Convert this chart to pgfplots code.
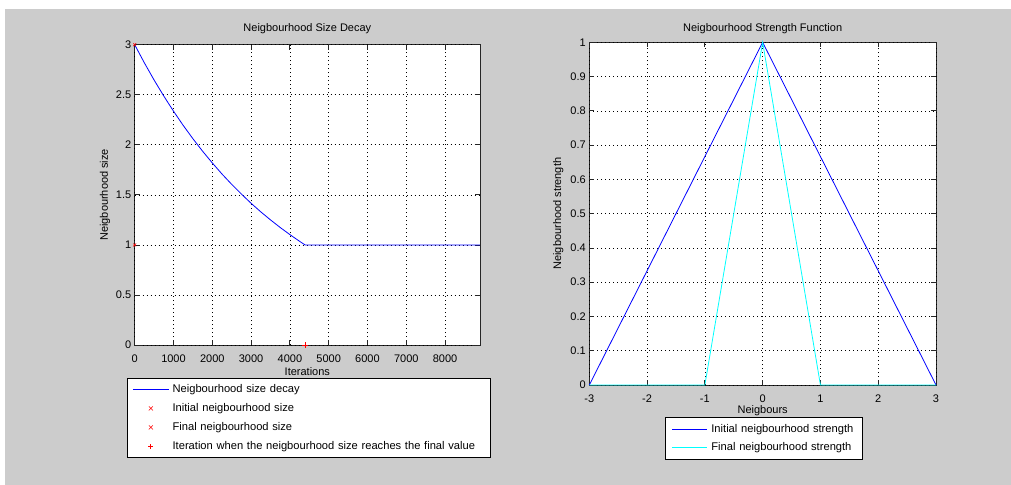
\documentclass[border=0pt]{standalone}
\usepackage{fontspec}
\setmainfont{Liberation Sans}
\usepackage{pgfplots}
\pgfplotsset{compat=1.18}
\definecolor{bg}{RGB}{204,204,204}
\definecolor{mblue}{RGB}{0,0,255}
\definecolor{mcyan}{RGB}{0,255,255}
\definecolor{mred}{RGB}{255,0,0}
\newcommand{\fnt}{\fontsize{11bp}{13bp}\selectfont}
\newcommand{\lfnt}{\fontsize{11.15bp}{13bp}\selectfont}
\pgfplotsset{
  mlab/.style={
    scale only axis,
    axis background/.style={fill=white, draw=black!85, line width=0.8bp},
    axis line style={draw=none},
    tick align=inside,
    major tick length=5bp,
    tick style={black!85, line width=0.8bp},
    grid=major,
    major grid style={black, line width=0.65bp, dash pattern=on 1bp off 3bp},
    /pgf/number format/assume math mode=true,
    /pgf/number format/1000 sep={},
    ticklabel style={font=\fnt},
    xticklabel style={anchor=base, yshift=-17bp},
    yticklabel style={anchor=east},
    label style={font=\fnt},
    every axis title/.style={font=\fnt, anchor=base},
    clip=false,
    legend cell align=left,
    legend style={draw=black, fill=white, line width=0.8bp, font=\lfnt,
      nodes={inner sep=0pt, text height=8bp, text depth=2bp}},
  },
  legLineA/.style={legend image code/.code={\draw[draw=#1, line width=1bp] (0bp,0bp) -- (36bp,0bp); \path[draw=none,fill=none] (0bp,0bp) -- (39.7bp,0bp);}},
  legLineB/.style={legend image code/.code={\draw[draw=#1, line width=1bp] (0bp,0bp) -- (35bp,0bp); \path[draw=none,fill=none] (0bp,0bp) -- (39bp,0bp);}},
}
\begin{document}
\begin{tikzpicture}[font=\fnt]
\useasboundingbox (0,0) rectangle (1011bp,-485bp);
\fill[white] (0,0) rectangle (1011bp,-485bp);
\fill[bg] (5bp,-9bp) rectangle (1011bp,-485bp);

\begin{axis}[mlab,
  at={(134.7bp,-345bp)}, anchor=south west,
  width=345.3bp, height=300.3bp,
  xmin=0, xmax=8900, ymin=0, ymax=3,
  xtick={0,1000,2000,3000,4000,5000,6000,7000,8000},
  ytick={0,0.5,1,1.5,2,2.5,3},
  yticklabels={0,0.5,1,1.5,2,2.5,3},
  title={Neigbourhood Size Decay},
  title style={at={(0.5,1.044)}},
  xlabel={Iterations},
  xlabel style={at={(axis description cs:0.5,-0.1016)}, anchor=base},
  ylabel={Neigbourhood size},
  ylabel style={at={(axis description cs:-0.086,0.5)}, anchor=center},
  legend style={at={(-0.02317,-0.1099)}, anchor=north west, inner xsep=5.3bp, inner ysep=6bp, row sep=9bp,
    nodes={text width=312bp}},
]
\addplot[draw=mblue, line width=0.8bp, legLineA=mblue] coordinates {
(0,3.000) (250,2.818) (500,2.647) (750,2.487) (1000,2.336) (1250,2.194)
(1500,2.061) (1750,1.936) (2000,1.819) (2250,1.708) (2500,1.605) (2750,1.508)
(3000,1.416) (3250,1.330) (3500,1.250) (3750,1.174) (4000,1.103) (4250,1.036)
(4390,1.000) (8900,1.000)};
\addlegendentry{Neigbourhood size decay}
\addplot[only marks, mark=x, mark size=2bp, mark options={draw=mred, line width=0.6bp}, legend image code/.code={\draw[draw=mred, line width=0.6bp] (16bp,-2bp) -- (20bp,2bp) (16bp,2bp) -- (20bp,-2bp); \path[draw=none,fill=none] (0bp,0bp) -- (39.7bp,0bp);}] coordinates {(0,3)};
\addlegendentry{Initial neigbourhood size}
\addplot[only marks, mark=x, mark size=2bp, mark options={draw=mred, line width=0.6bp}, legend image code/.code={\draw[draw=mred, line width=0.6bp] (16bp,-2bp) -- (20bp,2bp) (16bp,2bp) -- (20bp,-2bp); \path[draw=none,fill=none] (0bp,0bp) -- (39.7bp,0bp);}] coordinates {(0,1)};
\addlegendentry{Final neigbourhood size}
\addplot[only marks, mark=+, mark size=3bp, mark options={draw=mred, line width=1bp}, legend image code/.code={\draw[draw=mred, line width=0.9bp] (15.5bp,0bp) -- (20.5bp,0bp) (18bp,-2.5bp) -- (18bp,2.5bp); \path[draw=none,fill=none] (0bp,0bp) -- (39.7bp,0bp);}] coordinates {(4390,0)};
\addlegendentry{Iteration when the neigbourhood size reaches the final value}
\end{axis}

\begin{axis}[mlab,
  at={(589.3bp,-385bp)}, anchor=south west,
  width=346.7bp, height=342.7bp,
  xmin=-3, xmax=3, ymin=0, ymax=1,
  xtick={-3,-2,-1,0,1,2,3},
  ytick={0,0.1,0.2,0.3,0.4,0.5,0.6,0.7,0.8,0.9,1},
  yticklabels={0,0.1,0.2,0.3,0.4,0.5,0.6,0.7,0.8,0.9,1},
  title={Neigbourhood Strength Function},
  title style={at={(0.5,1.0315)}},
  xlabel={Neigbours},
  xlabel style={at={(axis description cs:0.5,-0.0817)}, anchor=base},
  ylabel={Neigbourhood strength},
  ylabel style={at={(axis description cs:-0.0894,0.5)}, anchor=center},
  legend style={at={(0.2183,-0.0934)}, anchor=north west, inner xsep=6.5bp, inner ysep=6.85bp, row sep=8.3bp,
    nodes={text width=145bp}},
]
\addplot[draw=mblue, line width=0.8bp, legLineB=mblue] coordinates {(-3,0) (0,1) (3,0)};
\addlegendentry{Initial neigbourhood strength}
\addplot[draw=mcyan, line width=0.8bp, legLineB=mcyan] coordinates {(-3,0) (-1,0) (0,1) (1,0) (3,0)};
\addlegendentry{Final neigbourhood strength}
\end{axis}
\end{tikzpicture}
\end{document}
